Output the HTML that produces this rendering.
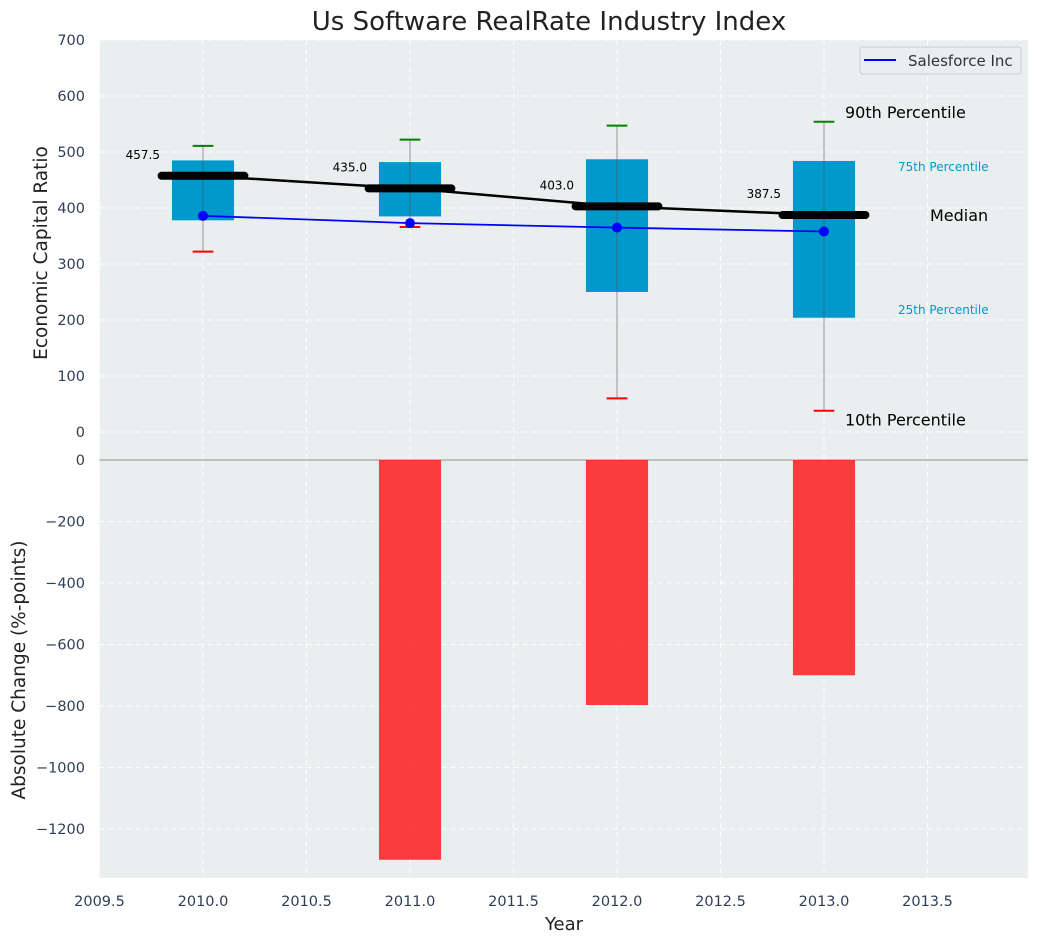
<!DOCTYPE html>
<html><head><meta charset="utf-8"><style>
body{margin:0;background:#fff;font-family:"Liberation Sans","DejaVu Sans",sans-serif}
svg text{font-family:"DejaVu Sans","Liberation Sans",sans-serif}
</style></head><body>
<svg id="c" width="1039" height="942" xmlns="http://www.w3.org/2000/svg"></svg>
<script>
const years=[2010,2011,2012,2013];
const p10=[322,366,60,38];
const p25=[378,385,250,204];
const med=[457.5,435,403,387.5];
const p75=[485,482,487,484];
const p90=[511,522,547,554];
const company=[386,373,365,358];
const change=[0,-1300,-797,-700];
const xTicks=[2009.5,2010,2010.5,2011,2011.5,2012,2012.5,2013,2013.5];
const yTopTicks=[0,100,200,300,400,500,600,700];
const yBotTicks=[0,-200,-400,-600,-800,-1000,-1200];

const svg=document.getElementById('c');const NS='http://www.w3.org/2000/svg';
function el(t,a,txt,name){const e=document.createElementNS(NS,t);for(const k in a)e.setAttribute(k,a[k]);if(txt!=null)e.textContent=txt;


svg.appendChild(e);return e;}
const L=99.5,R=1028;
const X=v=>L+(v-2009.5)*207;
const YT=v=>432-v*0.56;
const YB=v=>460-v*0.3075;
el('rect',{x:L,y:40,width:R-L,height:838,fill:'#eaeeef'},null,'plot-background');
xTicks.forEach(t=>{el('line',{x1:X(t),x2:X(t),y1:40,y2:878,stroke:'#fff','stroke-dasharray':'5,4','stroke-width':1},null,'x-grid');
el('text',{x:X(t),y:906,'text-anchor':'middle','font-size':14.5,fill:'#2e3f55'},t.toFixed(1),'x-tick-label');});
yTopTicks.forEach(t=>{el('line',{x1:L,x2:R,y1:YT(t),y2:YT(t),stroke:'#fff','stroke-dasharray':'5,4'},null,'y-grid-top');
el('text',{x:85,y:YT(t)+5,'text-anchor':'end','font-size':14.5,fill:'#2e3f55'},t,'y-top-tick-label');});
yBotTicks.forEach(t=>{el('line',{x1:L,x2:R,y1:YB(t),y2:YB(t),stroke:'#fff','stroke-dasharray':'5,4'},null,'y-grid-bottom');
el('text',{x:85,y:YB(t)+5,'text-anchor':'end','font-size':14.5,fill:'#2e3f55'},String(t).replace('-','\u2212'),'y-bottom-tick-label');});
el('line',{x1:L,x2:R,y1:YB(0),y2:YB(0),stroke:'#b0b0b0','stroke-width':1.5},null,'zero-line');
years.forEach((y,i)=>{const v=change[i];if(v===0)return;
el('rect',{x:X(y-0.15),y:YB(0),width:0.3*207,height:YB(v)-YB(0),fill:'rgba(255,0,0,0.75)'},null,'change-bar');});
years.forEach((y,i)=>{
el('rect',{x:X(y-0.15),y:YT(p75[i]),width:0.3*207,height:YT(p25[i])-YT(p75[i]),fill:'#0099cc'},null,'iqr-box');
el('line',{x1:X(y),x2:X(y),y1:YT(p90[i]),y2:YT(p10[i]),stroke:'#555','stroke-opacity':0.6,'stroke-width':1},null,'whisker');
el('line',{x1:X(y-0.05),x2:X(y+0.05),y1:YT(p90[i]),y2:YT(p90[i]),stroke:'green','stroke-width':2},null,'p90-cap');
el('line',{x1:X(y-0.05),x2:X(y+0.05),y1:YT(p10[i]),y2:YT(p10[i]),stroke:'red','stroke-width':2},null,'p10-cap');
el('text',{x:X(y)-43,y:YT(med[i])-17,'text-anchor':'end','font-size':12,fill:'#000'},med[i].toFixed(1),'median-label');
});
el('polyline',{points:years.map((y,i)=>X(y)+','+YT(med[i])).join(' '),fill:'none',stroke:'#000','stroke-width':2.5},null,'median-line');
years.forEach((y,i)=>el('line',{x1:X(y-0.2),x2:X(y+0.2),y1:YT(med[i]),y2:YT(med[i]),stroke:'#000','stroke-width':8,'stroke-linecap':'round'},null,'median-marker'));
el('polyline',{points:years.map((y,i)=>X(y)+','+YT(company[i])).join(' '),fill:'none',stroke:'#0000ff','stroke-width':1.8},null,'company-line');
years.forEach((y,i)=>el('circle',{cx:X(y),cy:YT(company[i]),r:5,fill:'#0000ff'},null,'company-point'));
el('text',{x:845,y:YT(p90[3])-10+6,'font-size':16,fill:'#000'},'90th Percentile','p90-annotation');
el('text',{x:898,y:YT(p75[3])+6+4,'font-size':12,fill:'#0099cc'},'75th Percentile','p75-annotation');
el('text',{x:930,y:YT(med[3])+6,'font-size':16,fill:'#000'},'Median','median-annotation');
el('text',{x:898,y:YT(p25[3])-8+4,'font-size':12,fill:'#0099cc'},'25th Percentile','p25-annotation');
el('text',{x:845,y:YT(p10[3])+9+6,'font-size':16,fill:'#000'},'10th Percentile','p10-annotation');
el('rect',{x:860,y:47,width:161,height:27,rx:3,fill:'#eaeef1',stroke:'#ccc'},null,'legend');
el('line',{x1:864,x2:896,y1:60,y2:60,stroke:'#0000ff','stroke-width':2},null,'legend-line');
el('text',{x:908,y:66,'font-size':15,fill:'#333'},'Salesforce Inc','legend-label');
el('text',{x:549,y:30,'text-anchor':'middle','font-size':26,fill:'#222'},'Us Software RealRate Industry Index','chart-title');
el('text',{x:564,y:930,'text-anchor':'middle','font-size':18,fill:'#222'},'Year','x-axis-title');
el('text',{x:0,y:0,'text-anchor':'middle','font-size':18.5,fill:'#222',transform:'translate(47,253) rotate(-90)'},'Economic Capital Ratio','y-top-axis-title');
el('text',{x:0,y:0,'text-anchor':'middle','font-size':18.5,fill:'#222',transform:'translate(25,670) rotate(-90)'},'Absolute Change (%-points)','y-bottom-axis-title');
</script>
</body></html>
